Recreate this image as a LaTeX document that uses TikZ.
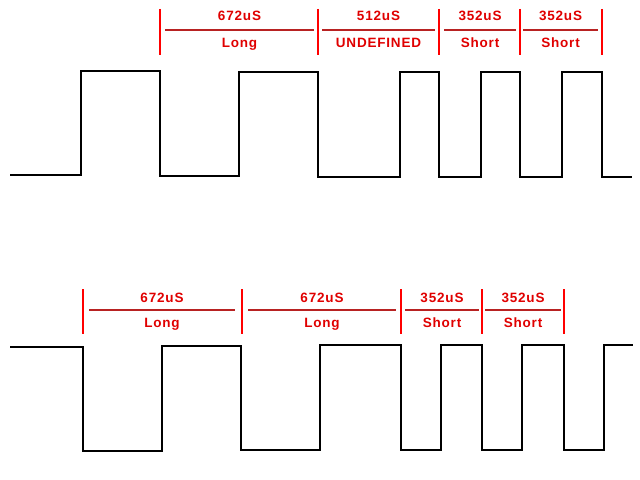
\documentclass[tikz,border=0pt]{standalone}
\usepackage{fontspec}
\setmainfont{Liberation Sans}
\newfontfamily\lblfont[LetterSpace=6]{Liberation Sans}
\definecolor{tickred}{HTML}{FF0000}
\definecolor{barred}{HTML}{B82222}
\definecolor{txtred}{HTML}{E00000}
\begin{document}
\begin{tikzpicture}[x=1bp,y=-1bp,
  wave/.style={line width=2.2bp,black,line join=miter},
  tick/.style={line width=2bp,tickred},
  bar/.style={line width=2bp,barred},
  lbl/.style={anchor=base,inner sep=0pt,text=txtred,font=\lblfont\fontsize{13.5bp}{15bp}\selectfont\bfseries}]
\useasboundingbox[fill=white] (0,0) rectangle (640,480);
% top waveform
\draw[wave] (10,175) -- (81,175) -- (81,71) -- (160,71) -- (160,176) -- (239,176) -- (239,72)
  -- (318,72) -- (318,177) -- (400,177) -- (400,72) -- (439,72) -- (439,177) -- (481,177)
  -- (481,72) -- (520,72) -- (520,177) -- (562,177) -- (562,72) -- (602,72) -- (602,177) -- (632,177);
% bottom waveform
\draw[wave] (10,347) -- (83,347) -- (83,451) -- (162,451) -- (162,346) -- (241,346) -- (241,450)
  -- (320,450) -- (320,345) -- (401,345) -- (401,450) -- (441,450) -- (441,345) -- (482,345)
  -- (482,450) -- (522,450) -- (522,345) -- (564,345) -- (564,450) -- (604,450) -- (604,345) -- (633,345);
% top markers
\foreach \x in {160,318,439,520,602} \draw[tick] (\x,9) -- (\x,55);
\foreach \a/\b/\t/\s in {165/314/672uS/Long,322/435/512uS/UNDEFINED,444/516/352uS/Short,523/598/352uS/Short}{
  \draw[bar] (\a,30) -- (\b,30);
  \node[lbl] at ({(\a+\b)/2},21) {\t};
  \node[lbl] at ({(\a+\b)/2},48) {\s};
}
% bottom markers
\foreach \x in {83,242,401,482,564} \draw[tick] (\x,289) -- (\x,334);
\foreach \a/\b/\t/\s in {89/235/672uS/Long,248/396/672uS/Long,405/479/352uS/Short,485/561/352uS/Short}{
  \draw[bar] (\a,310) -- (\b,310);
  \node[lbl] at ({(\a+\b)/2},302) {\t};
  \node[lbl] at ({(\a+\b)/2},327) {\s};
}
\end{tikzpicture}
\end{document}
